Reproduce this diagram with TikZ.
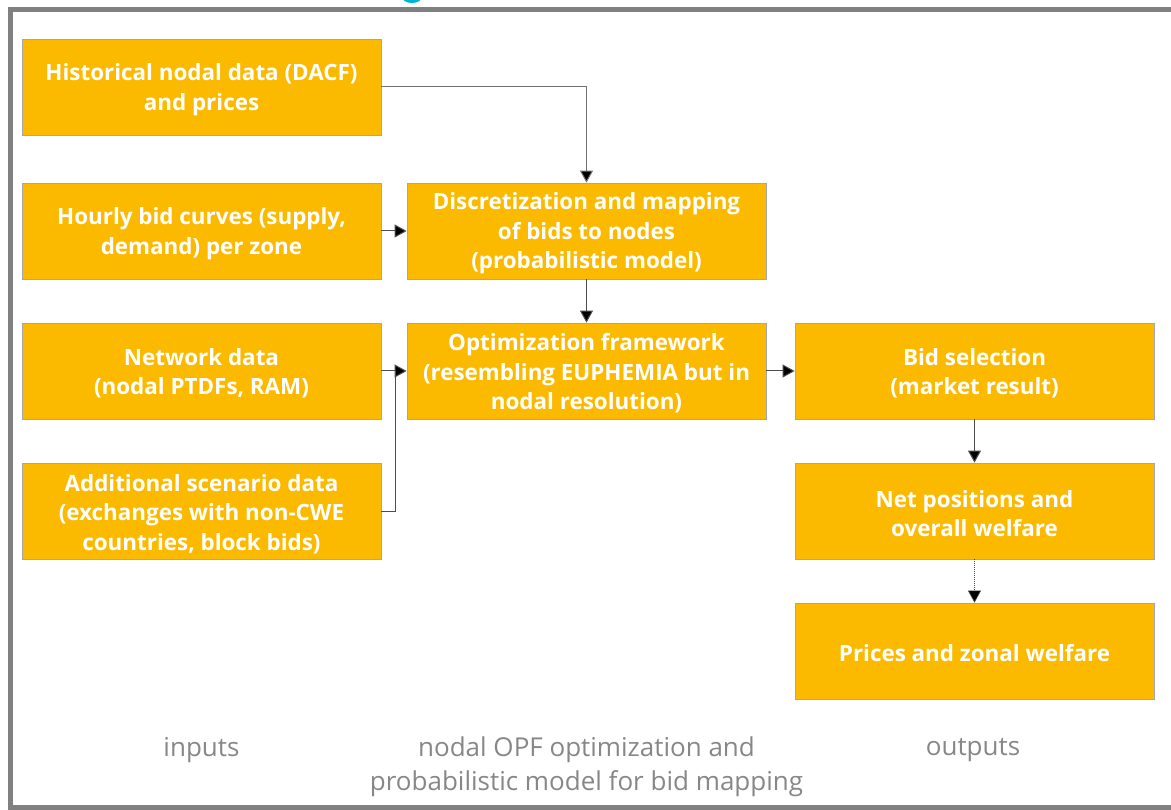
\documentclass[tikz,border=0pt]{standalone}
\usepackage{fontspec}
\setmainfont{Open Sans}
\usetikzlibrary{arrows.meta}
\definecolor{boxfill}{HTML}{FBBA00}
\definecolor{boxline}{HTML}{A6A6A6}
\definecolor{frame}{HTML}{808080}
\definecolor{wire}{HTML}{4D4D4D}
\definecolor{caption}{HTML}{878787}
\definecolor{titlecyan}{HTML}{00B4D8}
\tikzset{
  stage/.style={draw=boxline, line width=0.8pt, fill=boxfill,
    minimum width=359pt, minimum height=96pt, inner sep=0pt},
  stagetext/.style={text=white, font=\fontsize{22.4}{29.5}\selectfont\bfseries,
    align=center, inner sep=0pt},
  flow/.style={draw=wire, line width=1pt,
    -{Triangle[length=12pt,width=13pt,fill=black]}},
  column/.style={text=caption, font=\fontsize{26}{34}\selectfont, align=center}
}
% a filled stage box with its label set slightly below the centre
\newcommand\stagebox[3]{%
  \node[stage] (#1) at (#2) {};
  \node[stagetext] (#1-text) at ([yshift=-2.5pt]#1.center) {#3};
}
\begin{document}
\begin{tikzpicture}[x=1pt,y=-1pt]
\useasboundingbox (0,0) rectangle (1171,810);
\clip (0,0) rectangle (1171,810);
% outer frame, open towards the right edge
\draw[frame, line width=5pt] (1200,10) -- (10.4,10) -- (10.4,807.5) -- (1200,807.5);
% tail of the heading above the frame
\fill[titlecyan] (412,-3) ellipse (10 and 6);

% inputs
\stagebox{hist}{201.5,87}{Historical nodal data (DACF)\\and prices}
\stagebox{bids}{201.5,231}{Hourly bid curves (supply,\\demand) per zone}
\stagebox{net}{201.5,371}{Network data\\(nodal PTDFs, RAM)}
\stagebox{scen}{201.5,511.5}{Additional scenario data\\(exchanges with non-CWE\\countries, block bids)}

% model
\stagebox{disc}{586.5,231}{Discretization and mapping\\of bids to nodes\\(probabilistic model)}
\stagebox{opt}{586.5,371}{Optimization framework\\(resembling EUPHEMIA but in\\nodal resolution)}

% outputs
\stagebox{sel}{974.5,371}{Bid selection\\(market result)}
\stagebox{pos}{974.5,511}{Net positions and\\overall welfare}
\stagebox{price}{974.5,651}{Prices and zonal welfare}

% connectors
\coordinate (join) at (395,371);
\draw[flow, draw=wire!80] (hist.east) -| (disc.north);
\draw[flow] (bids.east) -- (disc.west);
\draw[flow] (disc.south) -- (opt.north);
\draw[flow] (net.east) -- (opt.west);
\draw[draw=wire, line width=1pt] (scen.east) -| (join);
\draw[flow] (opt.east) -- (sel.west);
\draw[flow] (sel.south) -- (pos.north);
\draw[flow, line width=0.6pt, dash pattern=on 1pt off 1pt] (pos.south) -- (price.north);

% column captions
\node[column] (capin) at (201.5,750) {inputs};
\node[column] (capmid) at (586.5,767) {nodal OPF optimization and\\probabilistic model for bid mapping};
\node[column] (capout) at (973,750) {outputs};
\end{tikzpicture}
\end{document}
